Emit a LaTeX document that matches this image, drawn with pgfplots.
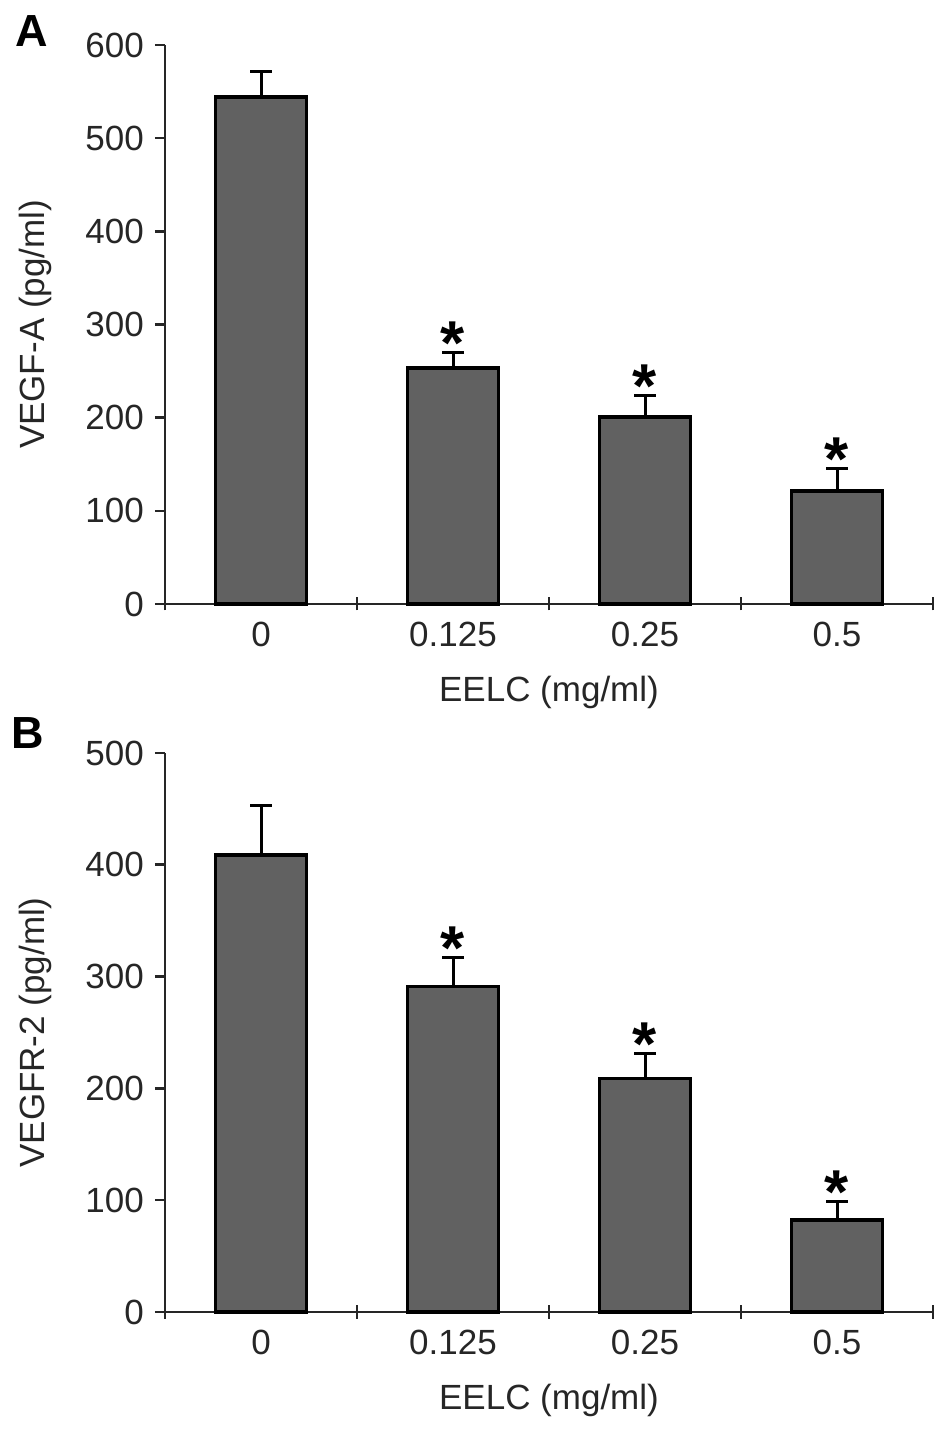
\documentclass[border=0pt]{standalone}
\usepackage{fontspec}
\setmainfont{Liberation Sans}
\usepackage{pgfplots}
\usepackage{pgfplotstable}
\pgfplotsset{compat=1.18}
\definecolor{barfill}{RGB}{97,97,97}

\pgfplotstableread{
x y e
0 544 28
1 253 17
2 201 23
3 121 24
}\dataA
\pgfplotstableread{
x y e
0 409 44
1 291 26
2 209 22
3 82.5 16
}\dataB

\pgfplotsset{
  panel/.style={
    scale only axis, width=768bp, height=559bp,
    xmin=-0.5, xmax=3.5, ymin=0,
    axis x line=bottom, axis y line=left,
    axis line style={-, line width=2.6bp, black!85},
    tick align=outside,
    major tick length=10bp,
    minor tick length=13bp,
    xtick={0,1,2,3}, xticklabels={0,0.125,0.25,0.5},
    major x tick style={draw=none},
    minor xtick={-0.5,0.5,1.5,2.5,3.5},
    minor x tick style={yshift=6.5bp, line width=2.6bp, black!85},
    major y tick style={line width=2.6bp, black!85},
    tick label style={font=\fontsize{35bp}{42bp}\selectfont, text=black!85},
    /pgf/number format/assume math mode=true,
    yticklabel style={anchor=east, inner sep=0pt, xshift=-11bp},
    xticklabel style={anchor=north, inner sep=0pt, yshift=-8bp},
    label style={font=\fontsize{35bp}{42bp}\selectfont, text=black!85},
    xlabel style={at={(axis description cs:0.5,-0.1574)}, anchor=center},
    ylabel style={at={(axis description cs:-0.1693,0.5)}, anchor=center},
    clip=false,
  },
  barplot/.style={
    ybar, bar width=91bp, fill=barfill, draw=black, line width=3.6bp,
    error bars/.cd, y dir=plus, y explicit,
    error bar style={line width=3bp, black},
    error mark=-,
    error mark options={rotate=90, line width=3bp, mark size=11bp, black},
  },
}
\tikzset{
  sigstar/.style={anchor=base, inner sep=0pt, font=\bfseries\fontsize{62bp}{62bp}\selectfont, yshift=-12bp},
}

\begin{document}
\begin{tikzpicture}
\useasboundingbox (0,0) rectangle (945bp,1434bp);

\begin{axis}[panel, at={(165bp,830bp)}, anchor=south west,
  ymax=600, ytick={0,100,...,600},
  xlabel={EELC (mg/ml)}, ylabel={VEGF-A (pg/ml)}]
  \addplot[barplot] table[x=x, y=y, y error=e] {\dataA};
  \node[sigstar] at (axis cs:1,270) {*};
  \node[sigstar] at (axis cs:2,224) {*};
  \node[sigstar] at (axis cs:3,145) {*};
\end{axis}

\begin{axis}[panel, at={(165bp,122bp)}, anchor=south west,
  ymax=500, ytick={0,100,...,500},
  xlabel={EELC (mg/ml)}, ylabel={VEGFR-2 (pg/ml)}]
  \addplot[barplot] table[x=x, y=y, y error=e] {\dataB};
  \node[sigstar] at (axis cs:1,317) {*};
  \node[sigstar] at (axis cs:2,231) {*};
  \node[sigstar] at (axis cs:3,98.5) {*};
\end{axis}

\node[font=\bfseries\fontsize{45bp}{45bp}\selectfont] at (32bp,1403bp) {A};
\node[font=\bfseries\fontsize{45bp}{45bp}\selectfont] at (28bp,701bp) {B};
\end{tikzpicture}
\end{document}
